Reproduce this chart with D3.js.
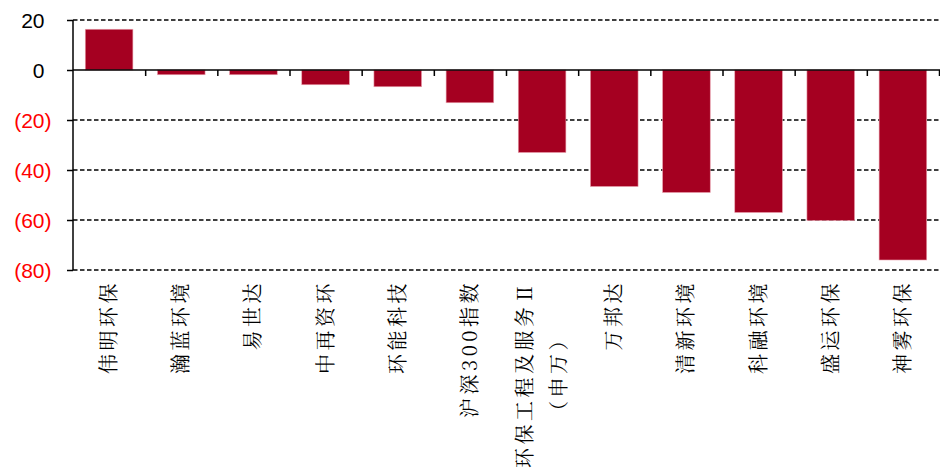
<!DOCTYPE html>
<html>
<head>
<meta charset="utf-8">
<script src="https://cdn.jsdelivr.net/npm/d3@7"></script>
<style>
  html, body { margin: 0; padding: 0; background: #fff; }
  svg { display: block; }
</style>
</head>
<body>
<svg id="chart" width="940" height="472"></svg>
<script>
// ---- data ----
const categories = [
  ["伟明环保"], ["瀚蓝环境"], ["易世达"], ["中再资环"], ["环能科技"], ["沪深300指数"],
  ["环保工程及服务Ⅱ", "（申万）"], ["万邦达"], ["清新环境"], ["科融环境"], ["盛运环保"], ["神雾环保"]
];
const values = [16.3, -1.9, -1.9, -5.9, -6.7, -13.1, -33.0, -46.6, -49.0, -57.0, -60.2, -76.0];
const yTicks = [20, 0, -20, -40, -60, -80];

// ---- layout ----
const svg = d3.select("#chart");
const mLeft = 73, mRight = 939, mTop = 20, mBottom = 270;
const keys = categories.map((c, i) => i);

const x = d3.scaleBand().domain(keys).range([mLeft, mRight]).paddingInner(0.34).paddingOuter(0.17);
const y = d3.scaleLinear().domain([-80, 20]).range([mBottom, mTop]);

// gridlines (dashed)
svg.append("g").selectAll("line").data(yTicks.filter(d => d !== 0)).join("line")
  .attr("x1", mLeft).attr("x2", 940)
  .attr("y1", d => y(d)).attr("y2", d => y(d))
  .attr("stroke", "#000").attr("stroke-width", 1.5)
  .attr("stroke-dasharray", "4.5,2.5");

// bars
svg.append("g").selectAll("rect").data(values).join("rect")
  .attr("x", (d, i) => x(i))
  .attr("width", x.bandwidth())
  .attr("y", d => y(Math.max(0, d)))
  .attr("height", d => Math.abs(y(d) - y(0)))
  .attr("fill", "#A50021")
  .attr("stroke", "#e9a0ad").attr("stroke-width", 0.6);

// y axis
const yAxis = d3.axisLeft(y).tickValues(yTicks).tickSize(6).tickFormat("");
const gy = svg.append("g").attr("transform", `translate(${mLeft},0)`).call(yAxis);
gy.select(".domain").attr("stroke", "#000").attr("stroke-width", 1.5).attr("d", `M0,${mTop}V${mBottom}`);
gy.selectAll(".tick line").attr("stroke", "#000").attr("stroke-width", 1.5);

// y tick labels: positives black, negatives red in parentheses
const lbl = svg.append("g").attr("font-family", "Liberation Sans, Arial, sans-serif").attr("font-size", 21);
lbl.selectAll("text").data(yTicks).join("text")
  .attr("x", d => d < 0 ? 51.5 : 44.5)
  .attr("y", d => y(d))
  .attr("dy", "0.36em")
  .attr("text-anchor", "end")
  .attr("fill", d => d < 0 ? "#FF0000" : "#000")
  .text(d => d < 0 ? `(${Math.abs(d)})` : `${d}`);

// zero line with ticks between categories
const step = x.step();
const xAxis = d3.axisBottom(d3.scaleLinear().domain([0, keys.length]).range([mLeft, mLeft + step * keys.length]))
  .tickValues(d3.range(1, keys.length + 1)).tickSize(6).tickFormat("");
const gx = svg.append("g").attr("transform", `translate(0,${y(0)})`).call(xAxis);
gx.select(".domain").attr("stroke", "#000").attr("stroke-width", 1.5).attr("d", `M${mLeft},0H940`);
gx.selectAll(".tick line").attr("stroke", "#000").attr("stroke-width", 1.5);

// category labels, vertical (rotated -90), ending near top
const labelTop = 280;
const lineGap = 34;
const cat = svg.append("g")
  .attr("font-family", "Noto Serif CJK SC, Noto Sans CJK SC, serif")
  .attr("font-size", 20).attr("fill", "#000");
categories.forEach((lines, i) => {
  const cx = x(i) + x.bandwidth() / 2;
  const n = lines.length;
  const first = cat.append("text")
    .attr("transform", `translate(${cx - (n - 1) / 2 * lineGap},${labelTop}) rotate(-90)`)
    .attr("dy", "0.35em")
    .attr("text-anchor", "end")
    .attr("letter-spacing", 3.5)
    .text(lines[0]);
  if (n > 1) {
    const len = first.node().getComputedTextLength();
    const mid = labelTop + len / 2;
    cat.append("text")
      .attr("transform", `translate(${cx + (n - 1) / 2 * lineGap},${mid}) rotate(-90)`)
      .attr("dy", "0.35em")
      .attr("text-anchor", "middle")
      .attr("letter-spacing", 3.5)
      .text(lines[1]);
  }
});
</script>
</body>
</html>
